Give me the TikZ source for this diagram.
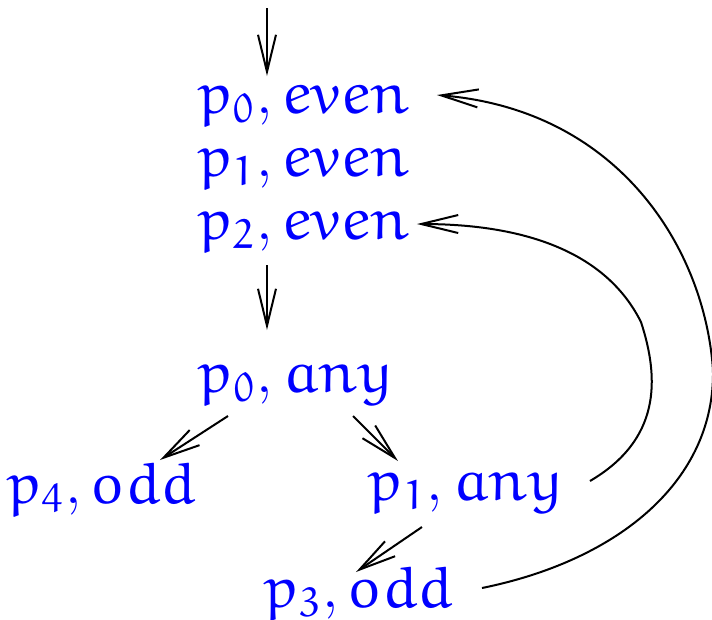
\documentclass[tikz,border=0pt]{standalone}
\usetikzlibrary{arrows.meta, calc}
\DeclareMathAlphabet{\mathEu}{U}{eur}{m}{n}
\newcommand{\pstate}[2]{$\mathEu{p}_{\mathEu{#1}},\mathEu{#2}$}

\begin{document}
\begin{tikzpicture}[x=0.2pt, y=-0.2pt,
  lbl/.style={text=blue, inner sep=0pt, font=\fontsize{11.8}{13}\selectfont},
  arr/.style={-{Straight Barb[length=7.4pt, width=3.6pt]}, line width=0.4pt}]
\useasboundingbox (0,0) rectangle (712,619);
% states
\node[lbl] (pe0) at (304,106) {\pstate{0}{even}};
\node[lbl] (pe1) at (304,169) {\pstate{1}{even}};
\node[lbl] (pe2) at (304,232) {\pstate{2}{even}};
\node[lbl] (pa0) at (296,385) {\pstate{0}{any}};
\node[lbl] (po4) at (102,489) {\pstate{4}{odd}};
\node[lbl] (pa1) at (466,493) {\pstate{1}{any}};
\node[lbl] (po3) at (359,593) {\pstate{3}{odd}};
\coordinate (init) at (267,8);

\draw[arr] (init) -- ($(pe0)+(-37,-30)$);
\draw[arr] ($(pe2)+(-37,33)$) -- ($(pa0)+(-29,-55)$);
\draw[arr] ($(pa0)+(-68,31)$) -- ($(po4)+(58,-29)$);
\draw[arr] ($(pa0)+(57,31)$) -- ($(pa1)+(-68,-32)$);
\draw[arr] ($(pa1)+(-44,34)$) -- ($(po3)+(-3,-21)$);
% back edges
\draw[arr] ($(pa1)+(124,-12)$) .. controls (660,440) and (660,380) .. (641,322)
  .. controls (600,240) and (500,224) .. ($(pe2)+(113,-8)$);
\draw[arr] ($(po3)+(123,-5)$) .. controls (620,560) and (715,480) .. (713,370)
  .. controls (705,250) and (620,110) .. ($(pe0)+(133,-11)$);
\end{tikzpicture}
\end{document}
